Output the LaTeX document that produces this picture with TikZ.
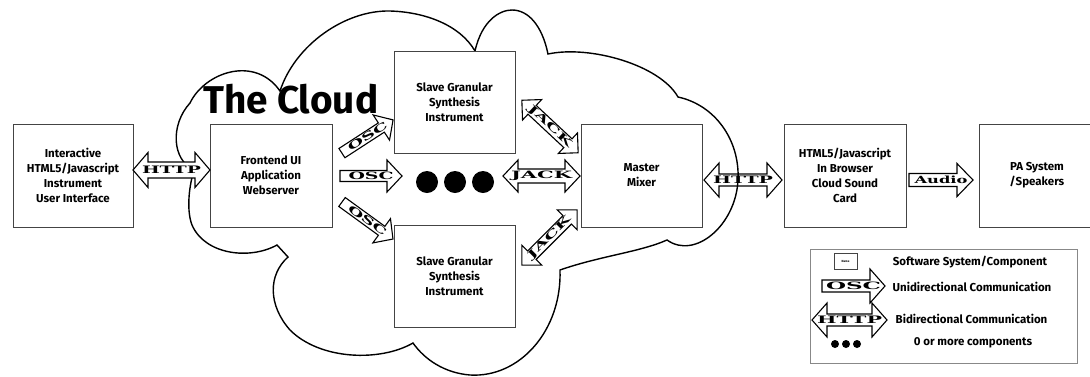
\documentclass[tikz,border=0pt]{standalone}
\usepackage{fontspec}
\setmainfont{Fira Sans}
\newfontfamily\arrfont{DejaVu Serif}
\definecolor{boxgray}{HTML}{444444}
\definecolor{leggray}{HTML}{888888}
\tikzset{
  box/.style={draw=boxgray, fill=white, line width=0.9pt, align=center,
    font=\bfseries\fontsize{11.5}{15}\selectfont, inner sep=0pt},
  legtext/.style={font=\bfseries\fontsize{11.5}{13}\selectfont, inner sep=0pt},
  arrline/.style={draw=black, fill=white, line width=1.1pt, line join=miter},
  arrtext/.style={inner sep=0pt, transform shape},
  cloudline/.style={draw=black, line width=1.4pt},
  dot/.style={fill=black}
}
\newcommand{\alab}[2]{\resizebox{#1pt}{7.5pt}{\arrfont\bfseries #2}}
% name, centre, angle, length, shaft half, head half, head length, label
\newcommand{\uniarr}[8]{%
  \begin{scope}[shift={#2},rotate=#3]
    \path[arrline] (-#4/2,-#5) -- ({#4/2-#7},-#5) -- ({#4/2-#7},-#6) -- (#4/2,0)
      -- ({#4/2-#7},#6) -- ({#4/2-#7},#5) -- (-#4/2,#5) -- cycle;
    \node[arrtext] (#1) at (0,0) {#8};
  \end{scope}}
\newcommand{\biarr}[8]{%
  \begin{scope}[shift={#2},rotate=#3]
    \path[arrline] (-#4/2,0) -- ({-#4/2+#7},-#6) -- ({-#4/2+#7},-#5) -- ({#4/2-#7},-#5)
      -- ({#4/2-#7},-#6) -- (#4/2,0) -- ({#4/2-#7},#6) -- ({#4/2-#7},#5)
      -- ({-#4/2+#7},#5) -- ({-#4/2+#7},#6) -- cycle;
    \node[arrtext] (#1) at (0,0) {#8};
  \end{scope}}
\begin{document}
\begin{tikzpicture}[x=1pt, y=-1pt]
\useasboundingbox (0,0) rectangle (1090,376);
\fill[white] (0,0) rectangle (1090,376);
\clip (0,0) rectangle (1090,376);

% arrow drawn below the cloud line
\biarr{h2}{(743,180)}{0}{78}{6}{17}{15}{\alab{60}{HTTP}}

% the cloud
\draw[cloudline]
  (194,170) .. controls (172,160) and (170,125) .. (190,103)
  .. controls (205,72) and (255,55) .. (280,91)
  .. controls (295,45) and (345,10) .. (390,11)
  .. controls (425,12) and (460,25) .. (475,51)
  .. controls (482,20) and (500,10) .. (512,10)
  .. controls (528,10) and (542,25) .. (548,54)
  .. controls (590,45) and (660,65) .. (678,97)
  .. controls (715,105) and (740,140) .. (738,180)
  .. controls (736,225) and (695,260) .. (667,240)
  .. controls (640,252) and (600,256) .. (560,270)
  .. controls (562,330) and (520,378) .. (470,375)
  .. controls (445,373) and (425,360) .. (413,343)
  .. controls (380,362) and (320,360) .. (290,330)
  .. controls (268,305) and (268,275) .. (288,257)
  -- (277,245)
  .. controls (250,260) and (205,255) .. (192,225)
  .. controls (187,212) and (188,190) .. (194,170);

\node[anchor=base west, inner sep=0pt, font=\bfseries\fontsize{39}{39}\selectfont] (title) at (203,113) {\resizebox{175pt}{!}{The Cloud}};

% boxes
\node[box, minimum width=120pt, minimum height=103pt] (ui) at (73,175.5) {Interactive\\HTML5/Javascript\\Instrument\\User Interface};
\node[box, minimum width=122pt, minimum height=103pt] (fe) at (271,175.5) {Frontend UI\\Application\\Webserver};
\node[box, minimum width=121pt, minimum height=102pt] (s1) at (454.5,102) {Slave Granular\\Synthesis\\Instrument};
\node[box, minimum width=121pt, minimum height=102pt] (s2) at (454.5,276) {Slave Granular\\Synthesis\\Instrument};
\node[box, minimum width=121pt, minimum height=103pt] (mm) at (641.5,175.5) {Master\\Mixer};
\node[box, minimum width=122pt, minimum height=103pt] (sc) at (845,175.5) {HTML5/Javascript\\In Browser\\Cloud Sound\\Card};
\node[box, minimum width=116pt, minimum height=103pt] (pa) at (1037,175.5) {PA System\\/Speakers};

% dots
\fill[dot] (427,182) circle (11) (455,182) circle (11) (483,182) circle (11);

% communication arrows
\biarr{h1}{(171.5,170)}{0}{77}{8}{17.5}{15}{\alab{59}{HTTP}}
\uniarr{o2}{(371,176)}{0}{62}{5.5}{16}{15}{\alab{45}{OSC}}
\uniarr{o1}{(367.5,136.5)}{33}{61}{5.5}{15}{14}{\alab{45}{OSC}}
\uniarr{o3}{(367.5,220.5)}{-36}{63}{5.5}{15}{14}{\alab{45}{OSC}}
\biarr{j2}{(541.5,176)}{0}{77}{7}{16}{15}{\alab{61}{JACK}}
\biarr{j1}{(550,126.5)}{-43}{77}{6}{14}{14}{\alab{56}{JACK}}
\biarr{j3}{(549.5,237.5)}{45}{78}{6}{14}{14}{\alab{56}{JACK}}
\uniarr{au}{(941,180)}{0}{64}{6.5}{16.5}{16}{\alab{53}{Audio}}

% legend
\node[draw=leggray, fill=white, line width=0.8pt, minimum width=267pt, minimum height=114pt, inner sep=0pt] (legend) at (943.5,306) {};
\node[box, font=\bfseries\fontsize{3}{3}\selectfont, minimum width=23pt, minimum height=16pt, line width=0.6pt] (namebox) at (845.5,261) {Name};
\node[legtext] (l1) at (970,262) {Software System/Component};
\uniarr{losc}{(853.5,286)}{0}{63}{6}{17}{15}{\alab{55}{OSC}}
\node[legtext] (l2) at (972,287) {Unidirectional Communication};
\biarr{lhttp}{(849.5,320)}{0}{75}{6}{17}{15}{\alab{65}{HTTP}}
\node[legtext] (l3) at (971.5,319) {Bidirectional Communication};
\fill[dot] (835,344) circle (4) (846,344) circle (4) (857,344) circle (4);
\node[legtext] (l4) at (973,343) {0 or more components};
\end{tikzpicture}
\end{document}
